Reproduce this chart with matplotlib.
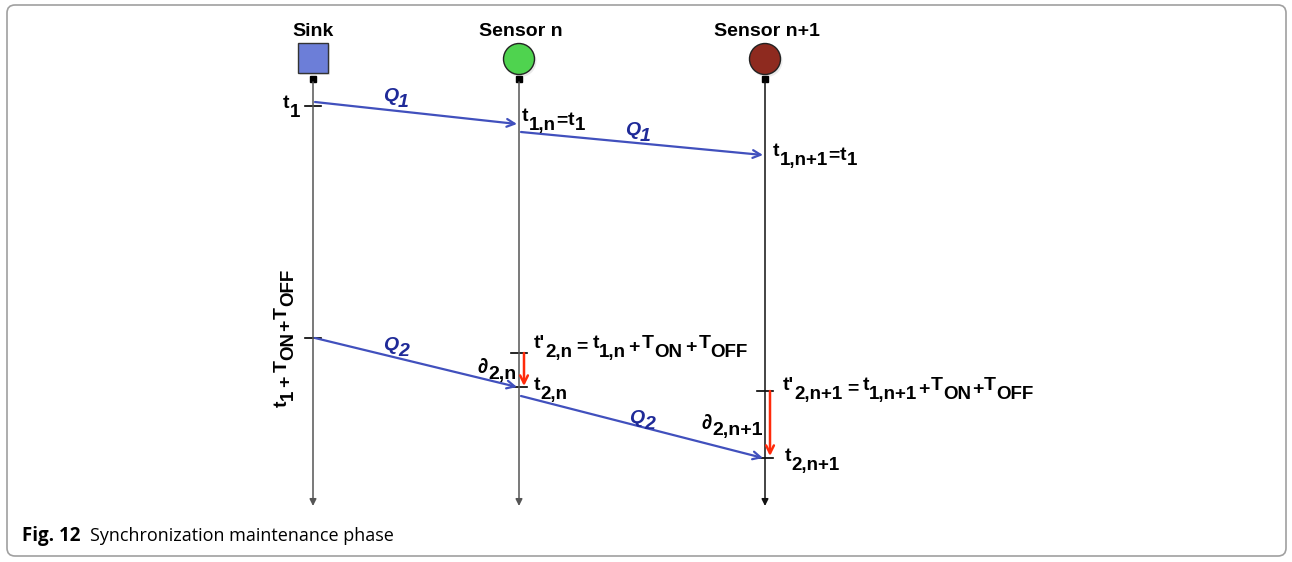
import matplotlib
matplotlib.use("Agg")
import matplotlib.pyplot as plt
from matplotlib.patches import FancyBboxPatch, Rectangle, Circle

# ---- diagram data (lanes + event times, y grows downwards) ----
nodes = ['Sink', 'Sensor n', 'Sensor n+1']
lane_x = [313, 519, 765]
node_kind = ['square', 'circle', 'circle']
node_col = ['#6c7ed8', '#4fd34f', '#8e2a1f']
line_col = ['#555555', '#555555', '#111111']

# messages: (from lane, to lane, send time, receive time, label subscript)
msgs = [(0, 1, 102, 124, '1'),
        (1, 2, 132, 155, '1'),
        (0, 1, 338, 387, '2'),
        (1, 2, 396, 458, '2')]
q_lab_pos = [(383, 101), (625, 135), (383, 350), (629, 423)]

# red delay arrows: (lane, expected time, actual time)
delays = [(1, 353, 386), (2, 391, 456)]
ticks = [(0, 106), (0, 338), (1, 353), (1, 387), (2, 391), (2, 458)]

# labels: list of (text, level, side padding) level 0 = base, 1 = subscript
labels = [
    ((283, 108), [('t', 0, 0), ('1', 1, 0)]),
    ((522, 121), [('t', 0, 0), ('1,n', 1, 0), ('=', 0.45, 0), ('t', 0.45, 0), ('1', 1, 0)]),
    ((773, 156), [('t', 0, 0), ('1,n+1', 1, 0), ('=', 0.45, 0), ('t', 0.45, 0), ('1', 1, 0)]),
    ((534, 348), [("t'", 0, 0), ('2,n', 1, 0), ('=', 0.35, 4), ('t', 0, 0), ('1,n', 1, 0),
                  ('+', 0.45, 2), ('T', 0, 0), ('ON', 1, 0), ('+', 0.45, 2),
                  ('T', 0, 0), ('OFF', 1, 0)]),
    ((534, 390), [('t', 0, 0), ('2,n', 1, 0)]),
    ((478, 373), [('\u2202', 0, 0), ('2,n', 0.7, 0)]),
    ((783, 390), [("t'", 0, 0), ('2,n+1', 1, 0), ('=', 0.35, 4), ('t', 0, 0), ('1,n+1', 1, 0),
                  ('+', 0.45, 0.5), ('T', 0, 0), ('ON', 1, 0), ('+', 0.45, 0.5),
                  ('T', 0, 0), ('OFF', 1, 0)]),
    ((785, 461), [('t', 0, 0), ('2,n+1', 1, 0)]),
    ((702, 429), [('\u2202', 0, 0), ('2,n+1', 0.7, 0)]),
]
rot_label = [('t', 0, 0), ('1', 1, 0), ('+', 0.45, 3), ('T', 0, 0), ('ON', 1, 0),
             ('+', 0.45, 0.5), ('T', 0, 0), ('OFF', 1, 0)]

blue = '#4150bd'
dblue = '#1f2a98'
red = '#ff2a0a'

fig = plt.figure(figsize=(12.92, 5.62), dpi=100)
ax = fig.add_axes([0, 0, 1, 1])
ax.set_xlim(0, 1292)
ax.set_ylim(562, 0)
ax.axis('off')
rend = fig.canvas.get_renderer()


def rich(x, y, parts, base=14, sub=13.5, drop=9, gap=0.3, rot=False, **kw):
    # draws base text and big dropped subscripts one after the other
    for s, lev, pad in parts:
        size = sub if lev == 1 else base
        if s == '\u2202':
            size = base + 1
        off = drop * lev
        if rot:
            y -= pad
            t = ax.text(x + off, y, s, fontsize=size, rotation=90, rotation_mode='anchor',
                        ha='left', va='baseline', fontweight='bold',
                        family=['Liberation Sans', 'DejaVu Sans'], **kw)
            y -= t.get_window_extent(rend).height + gap + pad
        else:
            x += pad
            t = ax.text(x, y + off, s, fontsize=size, ha='left', va='baseline',
                        fontweight='bold', family=['Liberation Sans', 'DejaVu Sans'], **kw)
            x += t.get_window_extent(rend).width + gap + pad


# border
ax.add_patch(FancyBboxPatch((7, 5), 1279, 551, boxstyle='round,pad=0,rounding_size=8',
                            fc='white', ec='#a0a0a0', lw=1.2))

# nodes + lifelines
for nm, x, kind, c, lc in zip(nodes, lane_x, node_kind, node_col, line_col):
    ax.text(x + (2 if nm != 'Sink' else 0), 31, nm, ha='center', va='center',
            fontsize=14, fontweight='bold', family='Liberation Sans')
    if kind == 'square':
        ax.add_patch(Rectangle((x - 13, 45), 30, 30, fc='#dddddd', ec='none', alpha=0.6))
        ax.add_patch(Rectangle((x - 15, 43), 30, 30, fc=c, ec='#333333', lw=1.0))
    else:
        ax.add_patch(Circle((x + 1.5, 61), 16, fc='#dddddd', ec='none', alpha=0.6))
        ax.add_patch(Circle((x, 59), 15.5, fc=c, ec='#222222', lw=1.0))
    ax.add_patch(Rectangle((x - 3, 76), 6, 6, fc='black', ec='black'))
    ax.annotate('', xy=(x, 506), xytext=(x, 82),
                arrowprops=dict(arrowstyle='-|>', color=lc, lw=1.1,
                                mutation_scale=10, shrinkA=0, shrinkB=0))

# ticks
for ln, t in ticks:
    ax.plot([lane_x[ln] - 8, lane_x[ln] + 8], [t, t], color='black', lw=1.2)

# messages
for (a, b, t0, t1, q), (lx, ly) in zip(msgs, q_lab_pos):
    ax.annotate('', xy=(lane_x[b] - 2, t1), xytext=(lane_x[a] + 2, t0),
                arrowprops=dict(arrowstyle='->', color=blue, lw=1.6,
                                mutation_scale=14, shrinkA=0, shrinkB=0))
    rich(lx, ly, [('Q', 0, 0), (q, 1, 0)], base=14, sub=14, drop=6, gap=0,
         color=dblue, style='italic')

# delays
for ln, t0, t1 in delays:
    ax.annotate('', xy=(lane_x[ln] + 5, t1), xytext=(lane_x[ln] + 5, t0),
                arrowprops=dict(arrowstyle='->', color=red, lw=1.8,
                                mutation_scale=14, shrinkA=0, shrinkB=0))

for (lx, ly), parts in labels:
    rich(lx, ly, parts)
rich(287, 407, rot_label, rot=True, drop=6)

# caption
ax.text(22, 541, 'Fig. 12', fontsize=13.5, fontweight='bold', family='Open Sans',
        ha='left', va='baseline')
ax.text(90, 541, 'Synchronization maintenance phase', fontsize=13, family='Open Sans',
        ha='left', va='baseline')

fig.savefig('out.png', dpi=100)
